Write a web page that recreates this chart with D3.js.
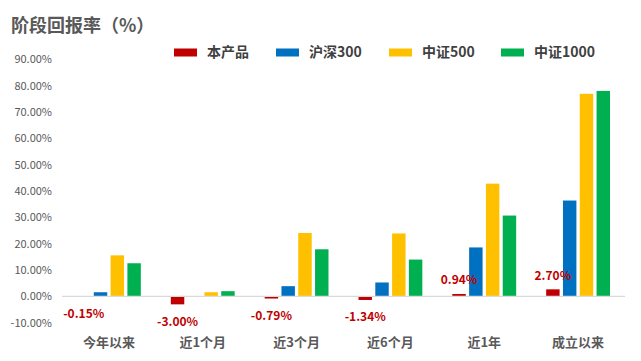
<!DOCTYPE html>
<html><head><meta charset="utf-8">
<script src="https://cdn.jsdelivr.net/npm/d3@7/dist/d3.min.js"></script>
<style>body{margin:0;background:#fff}svg{display:block}</style>
</head><body>
<svg id="c" width="641" height="361"></svg>
<script>
const categories = ["今年以来","近1个月","近3个月","近6个月","近1年","成立以来"];
const seriesNames = ["本产品","沪深300","中证500","中证1000"];
const product = [-0.15, -3.00, -0.79, -1.34, 0.94, 2.70];
const hs300 = [1.6, 0.1, 3.9, 5.3, 18.6, 36.4];
const zz500 = [15.6, 1.6, 24.1, 23.9, 42.8, 76.9];
const zz1000 = [12.6, 2.0, 17.9, 14.0, 30.7, 78.0];
const yTicks = [-10,0,10,20,30,40,50,60,70,80,90];
const colors = ["#C00000","#0070C0","#FFC000","#00B050"];
const series = [product, hs300, zz500, zz1000];
const font = "'Microsoft YaHei','Noto Sans CJK SC','Noto Sans',sans-serif";

const svg = d3.select("#c");
const x0 = d3.scaleBand().domain(categories).range([62, 625]).padding(0);
const x1 = d3.scaleBand().domain(seriesNames).range([15, x0.bandwidth()-15]).paddingInner(0.2).paddingOuter(0);
const y = d3.scaleLinear().domain([-10, 90]).range([322.8, 59.3]);

// title
svg.append("text").attr("x", 11).attr("y", 32).text("阶段回报率（%）")
  .attr("font-family", font).attr("font-size", 18).attr("font-weight", "bold").attr("fill", "#595959");

// y axis labels
const yAxis = d3.axisLeft(y).tickValues(yTicks).tickSize(0).tickPadding(0)
  .tickFormat(d => d.toFixed(2) + "%");
const ga = svg.append("g").attr("transform", "translate(52,0)").call(yAxis);
ga.select(".domain").remove();
ga.selectAll("text").attr("font-family", font).attr("font-size", 11).attr("fill", "#595959");

// bars
const groups = svg.append("g").selectAll("g").data(categories).join("g")
  .attr("transform", d => `translate(${x0(d)},0)`);
groups.selectAll("rect").data((c, i) => series.map((s, k) => ({k, name: seriesNames[k], v: s[i]})))
  .join("rect")
  .attr("x", d => x1(d.name)).attr("width", x1.bandwidth())
  .attr("y", d => y(Math.max(0, d.v))).attr("height", d => Math.abs(y(d.v) - y(0)))
  .attr("fill", d => colors[d.k]);

// baseline
svg.append("line").attr("x1", 62).attr("x2", 625).attr("y1", y(0)).attr("y2", y(0))
  .attr("stroke", "#d9d9d9").attr("stroke-width", 1.2);

// product labels
svg.append("g").selectAll("text").data(categories).join("text")
  .attr("x", (c) => x0(c) + x1(seriesNames[0]) + x1.bandwidth()/2)
  .attr("y", (c, i) => product[i] < 0 ? y(product[i]) + 17 : y(product[i]) - 14)
  .attr("dy", "0.35em").attr("text-anchor", "middle")
  .text((c, i) => product[i].toFixed(2) + "%")
  .attr("font-family", font).attr("font-size", 12).attr("font-weight", "bold").attr("fill", "#C00000");

// category labels
svg.append("g").selectAll("text").data(categories).join("text")
  .attr("x", c => x0(c) + x0.bandwidth()/2).attr("y", 342).attr("dy", "0.35em")
  .attr("text-anchor", "middle").text(c => c)
  .attr("font-family", font).attr("font-size", 13).attr("font-weight", "bold").attr("fill", "#595959");

// legend
const legX = [174, 276, 389, 501];
const lg = svg.append("g").selectAll("g").data(seriesNames).join("g")
  .attr("transform", (d, i) => `translate(${legX[i]},52.5)`);
lg.append("rect").attr("x", 0).attr("y", -4).attr("width", 23).attr("height", 8).attr("fill", (d, i) => colors[i]);
lg.append("text").attr("x", 33).attr("dy", "0.35em").text(d => d)
  .attr("font-family", font).attr("font-size", 14).attr("font-weight", "bold").attr("fill", "#404040");
</script>
</body></html>
